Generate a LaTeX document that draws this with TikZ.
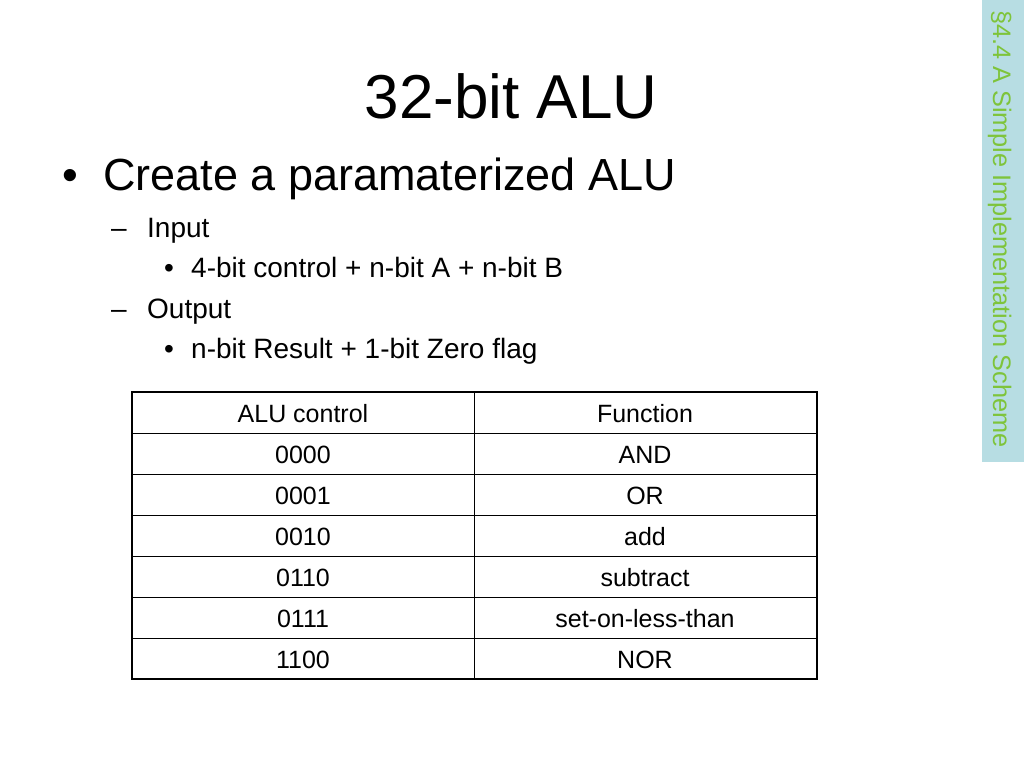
\documentclass[tikz,border=0pt]{standalone}
\usepackage{fontspec}
\setmainfont{Liberation Sans}
\usetikzlibrary{calc}
\definecolor{tabBlue}{RGB}{183,221,227}
\definecolor{tabGreen}{RGB}{126,196,58}
\tikzset{
	slidetitle/.style={anchor=base, inner sep=0pt, font=\fontsize{62}{70}\selectfont},
	levelone/.style={anchor=base west, inner sep=0pt, font=\fontsize{45}{52}\selectfont},
	leveltwo/.style={anchor=base west, inner sep=0pt, font=\fontsize{28}{32}\selectfont},
	sidebar/.style={anchor=base west, inner sep=0pt, rotate=-90, tabGreen, font=\fontsize{25.3}{30}\selectfont},
	cell/.style={anchor=base, inner sep=0pt, font=\fontsize{25}{30}\selectfont},
}
\def\rowh{41}

\begin{document}
\begin{tikzpicture}[x=1pt, y=-1pt, line cap=rect]

	\useasboundingbox (0,0) rectangle (1024,768);

	% side tab
	\fill[tabBlue] (982,0) rectangle (1024,462);
	\node[sidebar] (side) at (993,10) {§4.4 A Simple Implementation Scheme};

	\node[slidetitle] (title) at (511,118) {32-bit ALU};

	\node[levelone] (bulCreate) at (62,190) {•};
	\node[levelone] (create) at (103,190) {Create a paramaterized ALU};
	\node[leveltwo] (dashIn) at (111,237) {–};
	\node[leveltwo] (input) at (147,237) {Input};
	\node[leveltwo] (bulIn) at (164,277) {•};
	\node[leveltwo] (inText) at (191,277) {4-bit control + n-bit A + n-bit B};
	\node[leveltwo] (dashOut) at (111,318) {–};
	\node[leveltwo] (output) at (147,318) {Output};
	\node[leveltwo] (bulOut) at (164,358) {•};
	\node[leveltwo] (outText) at (191,358) {n-bit Result + 1-bit Zero flag};

	% table
	\coordinate (T) at (132,392);
	\coordinate (B) at (817,679);
	\draw[line width=1pt] (474,392) -- (474,679);
	\foreach \r in {1,...,6}
		\draw[line width=1pt] ($ (T)+(0,\r*\rowh) $) -- +(685,0);
	\draw[line width=2.5pt] (T) rectangle (B);

	\foreach \c/\f [count=\i from 0] in {ALU control/Function, 0000/AND, 0001/OR, 0010/add, 0110/subtract, 0111/set-on-less-than, 1100/NOR}{
		\node[cell] (ctl\i) at (303,422+\i*\rowh) {\c};
		\node[cell] (fn\i) at (645,422+\i*\rowh) {\f};
	}

\end{tikzpicture}
\end{document}
